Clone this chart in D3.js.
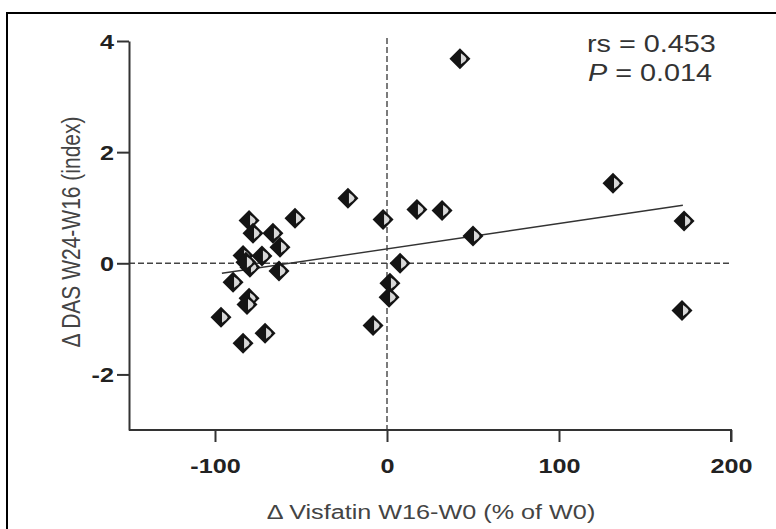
<!DOCTYPE html>
<html>
<head>
<meta charset="utf-8">
<script src="https://cdn.jsdelivr.net/npm/d3@7"></script>
<style>
  body { margin: 0; background: #fff; }
  svg { display: block; font-family: "Liberation Sans", Arial, sans-serif; }
</style>
</head>
<body>
<svg id="scatter" width="776" height="529"></svg>
<script>
// values
const visfatin = [42.4, 131.4, 172.7, 171.5, 50, -22.7, 17.4, 32, -2.3, 7.6, 1.7, 1.2, -8.1,
    -80.2, -77.9, -66.3, -62.2, -53.5, -83.7, -72.7, -79.7, -62.8, -89.5, -80.2, -81.4, -96.5, -83.7, -70.9, -82];
const das = [3.68, 1.44, 0.76, -0.85, 0.49, 1.17, 0.97, 0.95, 0.79, 0.0, -0.36, -0.61, -1.12,
    0.77, 0.54, 0.54, 0.29, 0.81, 0.14, 0.13, -0.07, -0.14, -0.34, -0.63, -0.74, -0.97, -1.44, -1.26, 0.02];
const fitLine = [[-96, -0.18], [172, 1.045]];
const xTicks = [-100, 0, 100, 200];
const yTicks = [-2, 0, 2, 4];
const statLines = ['rs = 0.453', 'P = 0.014'];

const sx = 1.2; // the picture is a bit stretched sideways

const svg = d3.select('#scatter');

// outer frame
svg.append('rect')
    .attr('x', 7).attr('y', 13).attr('width', 775).attr('height', 530)
    .attr('fill', 'none').attr('stroke', '#000').attr('stroke-width', 2);

const xScale = d3.scaleLinear().domain([-150, 200]).range([129, 731]);
const yScale = d3.scaleLinear().domain([-3, 4]).range([430, 41]);

const g = svg.append('g');

// dashed zero lines
g.append('line')
    .attr('x1', xScale(-150)).attr('x2', xScale(200))
    .attr('y1', yScale(0)).attr('y2', yScale(0))
    .attr('stroke', '#444').attr('stroke-width', 1.4).attr('stroke-dasharray', '6,3');
g.append('line')
    .attr('x1', xScale(0)).attr('x2', xScale(0))
    .attr('y1', 38).attr('y2', yScale(-3))
    .attr('stroke', '#444').attr('stroke-width', 1.4).attr('stroke-dasharray', '6,3');

// axes
const xAxis = d3.axisBottom(xScale).tickValues(xTicks).tickFormat(d => String(d)).tickSize(12).tickSizeOuter(0);
const yAxis = d3.axisLeft(yScale).tickValues(yTicks).tickFormat(d => String(d)).tickSize(12).tickSizeOuter(0);

g.append('g')
    .attr('transform', 'translate(0,' + yScale(-3) + ')')
    .call(xAxis)
    .call(a => {
        a.select('.domain').attr('stroke', '#333').attr('stroke-width', 2)
            .attr('d', 'M' + xScale(-150) + ',0H' + xScale(200) + 'V12');
        a.selectAll('.tick line').attr('stroke', '#333').attr('stroke-width', 2);
        a.selectAll('.tick text')
            .attr('fill', '#222').attr('font-size', 21).attr('font-weight', 'bold')
            .attr('y', 43).attr('dy', null)
            .attr('transform', 'scale(' + sx + ',1)');
    });

g.append('g')
    .attr('transform', 'translate(' + xScale(-150) + ',0)')
    .call(yAxis)
    .call(a => {
        a.select('.domain').attr('stroke', '#333').attr('stroke-width', 2);
        a.selectAll('.tick line').attr('stroke', '#333').attr('stroke-width', 2);
        a.selectAll('.tick text')
            .attr('fill', '#222').attr('font-size', 21).attr('font-weight', 'bold')
            .attr('x', -15 / sx).attr('dy', '0.36em')
            .attr('transform', 'scale(' + sx + ',1)');
    });

// regression line
g.append('line')
    .attr('x1', xScale(fitLine[0][0])).attr('y1', yScale(fitLine[0][1]))
    .attr('x2', xScale(fitLine[1][0])).attr('y2', yScale(fitLine[1][1]))
    .attr('stroke', '#333').attr('stroke-width', 1.4);

// diamonds
const r = 10.5;
const pts = visfatin.map((v, i) => ({ x: v, y: das[i] }));
const marks = g.append('g').selectAll('g').data(pts).enter().append('g')
    .attr('transform', d => 'translate(' + xScale(d.x) + ',' + yScale(d.y) + ')');
marks.append('path')
    .attr('d', 'M0,' + (-r) + 'L' + r + ',0L0,' + r + 'L' + (-r) + ',0Z')
    .attr('fill', '#141414');
marks.append('path')
    .attr('d', 'M1,-5.5Q6.5,-2 6.5,0Q6.5,2 1,5.5Z')
    .attr('fill', '#d8d8d8');

// stats
const st = svg.append('text').attr('font-size', 24).attr('fill', '#333')
    .attr('transform', 'scale(' + sx + ',1)');
st.append('tspan').attr('x', 587 / sx).attr('y', 52).text(statLines[0]);
const p2 = st.append('tspan').attr('x', 588 / sx).attr('y', 81);
p2.append('tspan').attr('font-style', 'italic').text(statLines[1].slice(0, 1));
p2.append('tspan').text(statLines[1].slice(1));

// axis titles
svg.append('text')
    .attr('transform', 'translate(431,519) scale(' + sx + ',1)')
    .attr('text-anchor', 'middle').attr('font-size', 21).attr('fill', '#444')
    .text('Δ Visfatin W16-W0 (% of W0)');
svg.append('text')
    .attr('transform', 'translate(80,232) rotate(-90) scale(1,' + sx + ')')
    .attr('text-anchor', 'middle').attr('font-size', 21).attr('fill', '#444')
    .text('Δ DAS W24-W16 (index)');
</script>
</body>
</html>
